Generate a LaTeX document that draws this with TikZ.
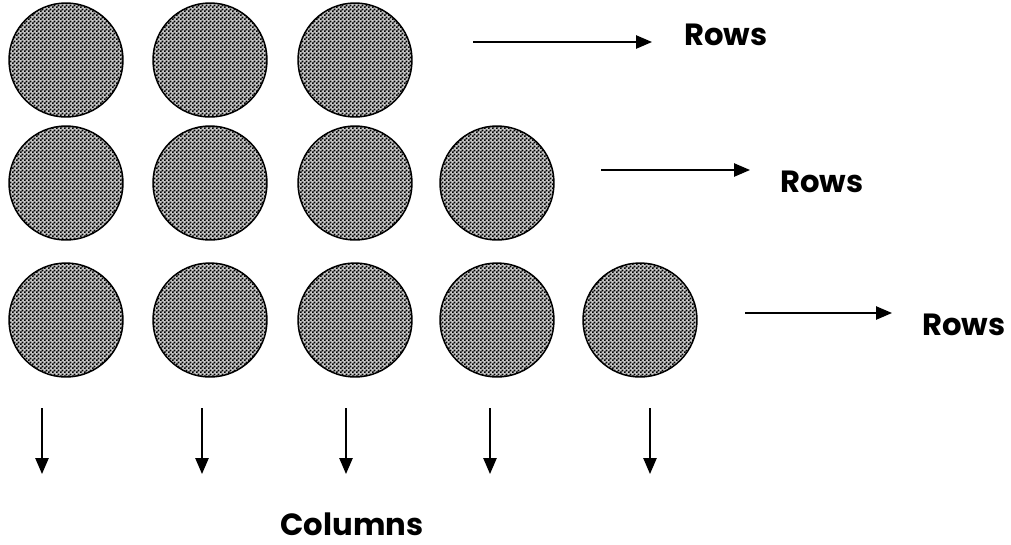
\documentclass[tikz,border=0pt]{standalone}
\usepackage{fontspec}
\setmainfont{Poppins}
\usetikzlibrary{patterns,arrows.meta}
\pgfdeclarepatternformonly{finecheck}{\pgfpointorigin}{\pgfpoint{3pt}{3pt}}{\pgfpoint{3pt}{3pt}}{%
  \pgfpathrectangle{\pgfpointorigin}{\pgfpoint{1.6pt}{1.6pt}}%
  \pgfpathrectangle{\pgfpoint{1.5pt}{1.5pt}}{\pgfpoint{1.6pt}{1.6pt}}%
  \pgfusepath{fill}}
\tikzset{
  ball/.style={circle, draw=black, line width=1.1pt, minimum size=85.5pt, inner sep=0pt, preaction={fill=black!22}, pattern=finecheck, pattern color=black},
  lbl/.style={font=\fontsize{23}{27}\selectfont\bfseries, inner sep=0pt, anchor=base},
  arr/.style={line width=1.1pt, -{Triangle[length=12pt,width=10pt]}}
}
\begin{document}
\begin{tikzpicture}[x=0.75pt,y=-0.75pt]
\useasboundingbox (0,0) rectangle (1011,544);
% row 1
\node[ball] (c11) at (66,60) {};
\node[ball] (c12) at (210,60) {};
\node[ball] (c13) at (355,60) {};
% row 2
\node[ball] (c21) at (66,183) {};
\node[ball] (c22) at (210,183) {};
\node[ball] (c23) at (355,183) {};
\node[ball] (c24) at (497,183) {};
% row 3
\node[ball] (c31) at (66,320) {};
\node[ball] (c32) at (210,320) {};
\node[ball] (c33) at (355,320) {};
\node[ball] (c34) at (497,320) {};
\node[ball] (c35) at (640,320) {};
% row labels
\node[lbl] (r1) at (726,45) {Rows};
\node[lbl] (r2) at (822,192) {Rows};
\node[lbl] (r3) at (964,335) {Rows};
\coordinate (r1s) at (473,42); \coordinate (r1e) at (652,42);
\coordinate (r2s) at (601,170); \coordinate (r2e) at (750,170);
\coordinate (r3s) at (745,313); \coordinate (r3e) at (892,313);
\draw[arr] (r1s) -- (r1e);
\draw[arr] (r2s) -- (r2e);
\draw[arr] (r3s) -- (r3e);
% columns
\node[lbl] (col) at (352,535) {Columns};
\foreach \n/\x in {1/42,2/202,3/346,4/490,5/650}{
  \coordinate (k\n s) at (\x,408);
  \coordinate (k\n e) at (\x,474);
  \draw[arr] (k\n s) -- (k\n e);
}
\end{tikzpicture}
\end{document}
